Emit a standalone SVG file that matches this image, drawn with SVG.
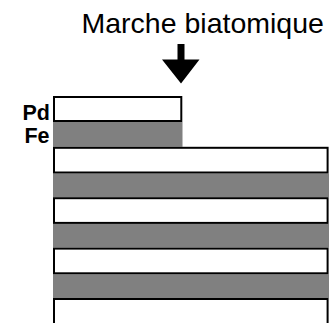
<svg xmlns="http://www.w3.org/2000/svg" width="329" height="323" viewBox="0 0 329 323">
<style>
.pd{fill:#fff;stroke:#000;stroke-width:2}
.fe{fill:#808080;stroke:none}
.lbl{font-family:"Liberation Sans",Arial,sans-serif;font-weight:bold;font-size:21.5px;fill:#000;text-anchor:end}
.title{font-family:"Liberation Sans",Arial,sans-serif;font-size:28.5px;fill:#000}
</style>
<rect width="329" height="323" fill="#fff"/>
<g id="title"><text class="title" x="81.5" y="33">Marche biatomique</text></g>
<g id="connectors">
<path d="M177.5,44 H184.5 V59.5 H199.5 L181,83.5 L162,59.5 H177.5 Z" fill="#000"/>
</g>
<g id="layers">
<rect class="fe" x="53" y="122" width="129.5" height="24.8"/>
<rect class="fe" x="53" y="173.5" width="276" height="23.7"/>
<rect class="fe" x="53" y="223.9" width="276" height="23.7"/>
<rect class="fe" x="53" y="274.3" width="276" height="23.7"/>
<rect class="pd" x="54" y="97" width="127.3" height="24"/>
<rect class="pd" x="54" y="147.8" width="273.6" height="24.7"/>
<rect class="pd" x="54" y="198.2" width="273.6" height="24.7"/>
<rect class="pd" x="54" y="248.6" width="273.6" height="24.7"/>
<path class="pd" d="M54,330 V299 H327.6 V330"/>
</g>
<g id="labels">
<text class="lbl" x="50" y="120">Pd</text>
<text class="lbl" x="49.5" y="143">Fe</text>
</g>
</svg>
